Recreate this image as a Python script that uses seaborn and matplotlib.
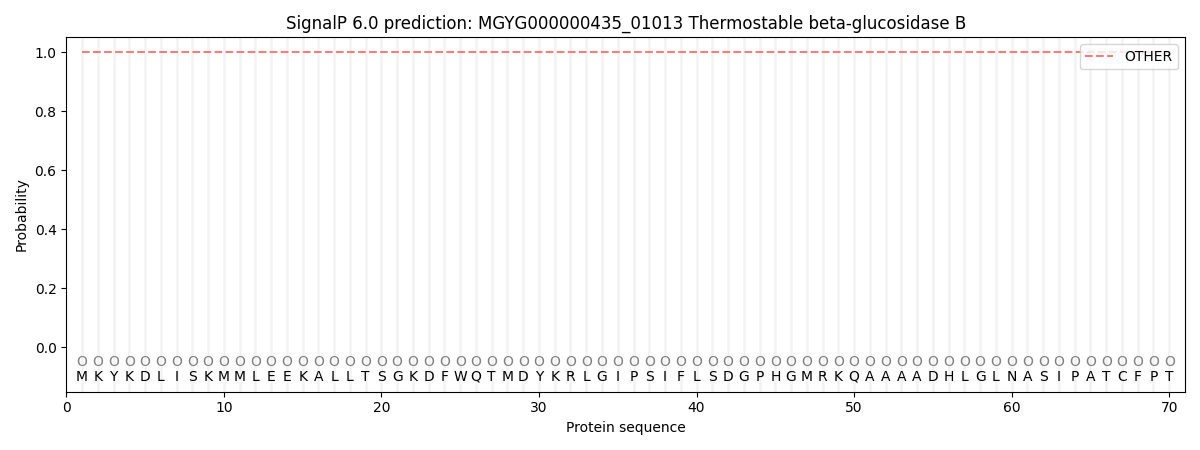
import numpy as np
import pandas as pd
import matplotlib
matplotlib.use("Agg")
import matplotlib.pyplot as plt
import seaborn as sns

# Data
sequence = list("MKYKDLISKMMLEEKALLTSGKDFWQTMDYKRLGIPSIFLSDGPHGMRKQAAAADHLGLNASIPATCFPT")
positions = list(range(1, len(sequence) + 1))
other_prob = [1.0] * len(sequence)
region_labels = ["O"] * len(sequence)

df = pd.DataFrame({"pos": positions, "OTHER": other_prob})

fig, ax = plt.subplots(figsize=(12, 4.5), dpi=100)

# light vertical guide at each residue
for p in positions:
    ax.axvline(p, color="#f2f2f2", linewidth=1.8, zorder=0)

sns.lineplot(data=df, x="pos", y="OTHER", ax=ax, color="#f08080",
             linestyle="--", linewidth=1.5, label="OTHER")

for p, aa, lab in zip(positions, sequence, region_labels):
    ax.text(p, -0.05, lab, ha="center", va="center", fontsize=10, color="grey")
    ax.text(p, -0.1, aa, ha="center", va="center", fontsize=10, color="black")

ax.set_xlim(0, 71)
ax.set_ylim(-0.15, 1.05)
ax.set_xlabel("Protein sequence")
ax.set_ylabel("Probability")
ax.set_title("SignalP 6.0 prediction: MGYG000000435_01013 Thermostable beta-glucosidase B")
ax.legend(loc="upper right")

plt.tight_layout()
plt.savefig("out.png")
